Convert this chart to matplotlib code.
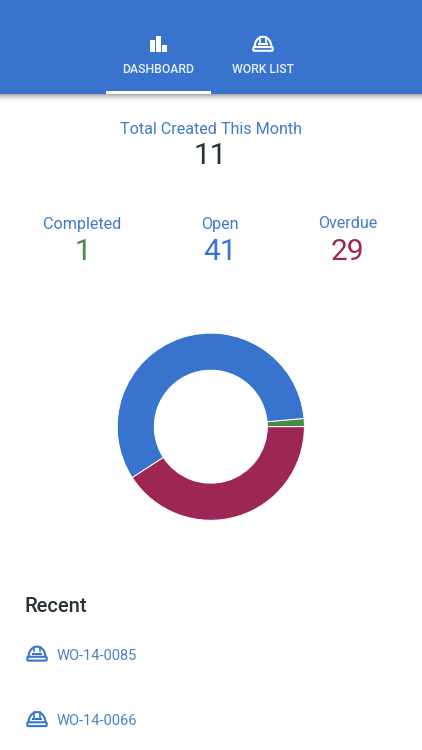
import matplotlib
matplotlib.use("Agg")
import matplotlib.pyplot as plt
import numpy as np
from matplotlib.patches import Rectangle, FancyBboxPatch

plt.rcParams['font.family'] = ['Roboto', 'DejaVu Sans']

# data
status_labels = ['Completed', 'Open', 'Overdue']
status_values = [1, 41, 29]
total_label = 'Total Created This Month'
total_value = 11
tabs = ['DASHBOARD', 'WORK LIST']
recent_items = ['WO-14-0085', 'WO-14-0066']

BLUE = '#3874CE'
GREEN = '#4A8B47'
RED = '#9E2654'
DARK = '#263238'
LABEL = '#4079CF'
W, H = 422, 750

fig = plt.figure(figsize=(W / 100, H / 100), dpi=100, facecolor='white')
ax = fig.add_axes([0, 0, 1, 1])
ax.axis('off')


def helmet(ax, cx, cy, color, lw=1.5):
    # hard hat icon, about 20x16 px around (cx, cy)
    t = np.linspace(np.pi, 2 * np.pi, 40)
    ax.plot(cx + 8.4 * np.cos(t), cy + 3.5 + 10.2 * np.sin(t), color=color, lw=lw, solid_capstyle='butt', zorder=3)
    ax.add_patch(FancyBboxPatch((cx - 9.7, cy + 3.5), 19.4, 3.8, boxstyle='round,pad=0,rounding_size=1.2',
                                fc='none', ec=color, lw=lw, zorder=3))
    # centre strip of the hat
    ax.plot([cx - 2.6, cx - 2.6], [cy - 6.4, cy - 2], color=color, lw=lw * 0.8, zorder=3)
    ax.plot([cx + 2.6, cx + 2.6], [cy - 6.4, cy - 2], color=color, lw=lw * 0.8, zorder=3)
    ax.plot([cx - 3.8, cx + 3.8], [cy + 0.2, cy + 0.2], color=color, lw=lw, zorder=3)


# header
ax.add_patch(Rectangle((0, 0), W, 94, fc=BLUE, ec='none', zorder=1))
fade = np.linspace(0, 1, 12).reshape(-1, 1)
ax.imshow(fade, extent=[0, W, 105, 94], cmap='gray', vmin=0.0, vmax=1.0, alpha=0.32 * (1 - fade) ** 1.5,
          aspect='auto', zorder=1)
ax.set_xlim(0, W)
ax.set_ylim(H, 0)
ax.add_patch(Rectangle((106, 90.5), 105, 3.5, fc='white', ec='none', zorder=2))

# bar chart icon
for x0, y0, w in [(150, 40, 5), (156.3, 36, 5), (162.4, 45, 4.2)]:
    ax.add_patch(Rectangle((x0, y0), w, 51.7 - y0, fc='white', ec='none', zorder=2))
helmet(ax, 263, 43.5, 'white')
ax.text(158.5, 69.5, tabs[0], color='#E8F0FB', fontsize=8.8, fontweight='medium', ha='center', va='center', zorder=3)
ax.text(263.5, 69.5, tabs[1], color='#E8F0FB', fontsize=8.8, fontweight='medium', ha='center', va='center', zorder=3)

# totals
ax.text(210.5, 129, total_label, color=LABEL, fontsize=11.6, ha='center', va='center')
ax.text(210.5, 156.5, str(total_value), color=DARK, fontsize=21.5, ha='center', va='center')

# stats
stat_x = [82.5, 220, 347.5]
stat_colors = [GREEN, BLUE, RED]
for x, lab, val, col in zip(stat_x, status_labels, status_values, stat_colors):
    ax.text(x, 224, lab, color=LABEL, fontsize=11.6, ha='center', va='center')
    ax.text(x, 251.5, str(val), color=col, fontsize=21.5, ha='center', va='center')

# donut
cx, cy, r_out, r_in = 210.8, 426.7, 93.6, 56.5
pie_ax = fig.add_axes([(cx - r_out) / W, 1 - (cy + r_out) / H, 2 * r_out / W, 2 * r_out / H])
pie_ax.pie(status_values, colors=stat_colors, startangle=0, counterclock=True, radius=1.0,
           wedgeprops=dict(width=1 - r_in / r_out, edgecolor='white', linewidth=0.7, clip_on=False))
pie_ax.set_xlim(-1, 1)
pie_ax.set_ylim(-1, 1)

# recent
ax.text(25, 606, 'Recent', color=DARK, fontsize=14.5, fontweight='medium', ha='left', va='center')
for y, item in zip([655.5, 721], recent_items):
    helmet(ax, 37, y - 2.2, BLUE)
    ax.text(57, y, item, color='#4A80D0', fontsize=10.55, ha='left', va='center')

fig.savefig('out.png', dpi=100, facecolor='white')
